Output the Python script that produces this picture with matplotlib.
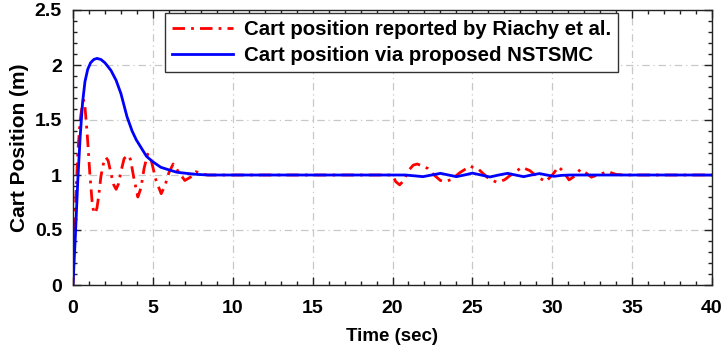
import matplotlib
matplotlib.use("Agg")
import matplotlib.pyplot as plt
from matplotlib.ticker import MultipleLocator
from matplotlib.font_manager import FontProperties

# Riachy et al. (red dash-dot)
t_red = [0, 0.05, 0.15, 0.3, 0.45, 0.6, 0.67, 0.75, 0.9, 1.05, 1.2, 1.3, 1.38, 1.5, 1.6,
         1.75, 1.9, 2.06, 2.2, 2.4, 2.55, 2.7, 2.85, 3.0, 3.2, 3.45, 3.6, 3.8, 4.06,
         4.25, 4.45, 4.67, 4.9, 5.2, 5.52, 5.75, 6.0, 6.27, 6.6, 7.0, 7.35, 7.7, 8.05,
         8.4, 9.0, 10.0, 20.0,
         20.2, 20.45, 20.7, 21.0, 21.3, 21.55, 21.9, 22.2, 22.6, 23.0, 23.3, 23.7,
         24.2, 24.85, 25.4, 26.0, 26.5, 27.0, 27.5, 28.1, 28.6, 29.1, 29.6, 30.0,
         30.4, 30.7, 31.05, 31.4, 31.75, 32.1, 32.45, 32.9, 33.5, 34.0, 34.5, 40.0]
y_red = [0, 0.35, 0.7, 1.2, 1.5, 1.66, 1.68, 1.62, 1.35, 1.02, 0.75, 0.66, 0.65, 0.7, 0.8,
         0.99, 1.1, 1.16, 1.13, 1.0, 0.91, 0.87, 0.92, 1.03, 1.15, 1.18, 1.14, 0.98, 0.80,
         0.88, 1.06, 1.19, 1.13, 0.95, 0.83, 0.9, 1.02, 1.10, 1.03, 0.95, 0.98, 1.03, 1.01,
         1.0, 1.0, 1.0, 1.0,
         0.94, 0.91, 0.95, 1.04, 1.09, 1.10, 1.08, 1.06, 1.0, 0.95, 0.94, 0.96,
         1.02, 1.08, 1.05, 0.97, 0.935, 0.955, 1.01, 1.07, 1.04, 0.98, 0.94, 1.0,
         1.075, 1.03, 0.955, 0.99, 1.05, 1.02, 0.98, 1.005, 1.03, 1.005, 1.0, 1.0]

# Proposed NSTSMC (blue solid)
t_blue = [0, 0.15, 0.3, 0.45, 0.6, 0.75, 0.92, 1.1, 1.3, 1.5, 1.75, 2.0, 2.38, 2.7,
          3.0, 3.38, 3.7, 3.96, 4.3, 4.6, 5.0, 5.5, 6.04, 6.5, 7.1, 7.8, 8.5, 10.0,
          20.0, 20.8, 21.4, 21.9, 22.45, 23.0, 23.5, 24.0, 24.5, 25.0, 25.55, 26.1,
          26.65, 27.2, 27.7, 28.2, 28.7, 29.2, 29.65, 30.1, 30.6, 31.2, 40.0]
y_blue = [0, 0.45, 0.95, 1.35, 1.66, 1.85, 1.96, 2.02, 2.05, 2.06, 2.05, 2.02, 1.95, 1.86,
          1.74, 1.53, 1.40, 1.32, 1.24, 1.17, 1.12, 1.07, 1.045, 1.025, 1.015, 1.005, 1.0, 1.0,
          1.0, 1.0, 0.992, 0.985, 1.0, 1.015, 1.0, 0.985, 1.0, 1.017, 1.0, 0.982,
          1.0, 1.015, 1.0, 0.985, 1.0, 1.013, 1.0, 0.988, 0.997, 1.0, 1.0]

label_red = "Cart position reported by Riachy et al."
label_blue = "Cart position via proposed NSTSMC"
x_ticks = [0, 5, 10, 15, 20, 25, 30, 35, 40]
y_ticks = [0, 0.5, 1, 1.5, 2, 2.5]
y_tick_labels = ["0", "0.5", "1", "1.5", "2", "2.5"]

plt.rcParams['font.family'] = ['Liberation Sans', 'DejaVu Sans']

fam = ['Liberation Sans', 'DejaVu Sans']
tick_fp = FontProperties(family=fam, weight='bold', size=14)
leg_fp = FontProperties(family=fam, weight='bold', size=14.7)
xlab_fp = FontProperties(family=fam, weight='bold', size=13.5)
ylab_fp = FontProperties(family=fam, weight='bold', size=15)

fig = plt.figure(figsize=(7.23, 3.56), dpi=100)
ax = fig.add_axes([73/723, 1-285/356, (712-73)/723, (285-10)/356])

ax.plot(t_red, y_red, color='#ff0000', lw=2.0, dashes=(4.5, 2.2, 1.0, 2.2),
        label=label_red)
ax.plot(t_blue, y_blue, color='#0000ff', lw=2.0, label=label_blue)

ax.set_xlim(0, 40)
ax.set_ylim(0, 2.5)
ax.set_xticks(x_ticks)
ax.set_xticklabels([str(v) for v in x_ticks], fontproperties=tick_fp)
ax.set_yticks(y_ticks)
ax.set_yticklabels(y_tick_labels, fontproperties=tick_fp)
ax.xaxis.set_minor_locator(MultipleLocator(1))
ax.yaxis.set_minor_locator(MultipleLocator(0.1))
ax.tick_params(which='both', direction='in', top=True, right=True,
               width=1.0, color='#222222')
ax.tick_params(which='major', length=6)
ax.tick_params(which='minor', length=3)
ax.tick_params(axis='x', which='major', pad=11)
ax.tick_params(axis='y', which='major', pad=8)

ax.grid(True, which='major', color='#c8c8c8', lw=0.9, dashes=(6, 3, 1, 3))
ax.set_axisbelow(True)
for sp in ax.spines.values():
    sp.set_linewidth(1.0)
    sp.set_color('#222222')

ax.set_xlabel("Time (sec)", fontproperties=xlab_fp, labelpad=8)
ax.set_ylabel("Cart Position (m)", fontproperties=ylab_fp, labelpad=4)

leg = ax.legend(loc='upper left', bbox_to_anchor=((165-73)/639, 1-3/275),
                prop=leg_fp, frameon=True, fancybox=False, edgecolor='#333333',
                framealpha=1, borderpad=0.35, labelspacing=0.35, handlelength=3.0,
                handletextpad=0.5, borderaxespad=0)
leg.get_frame().set_linewidth(1.0)

fig.savefig("out.png", dpi=100)
